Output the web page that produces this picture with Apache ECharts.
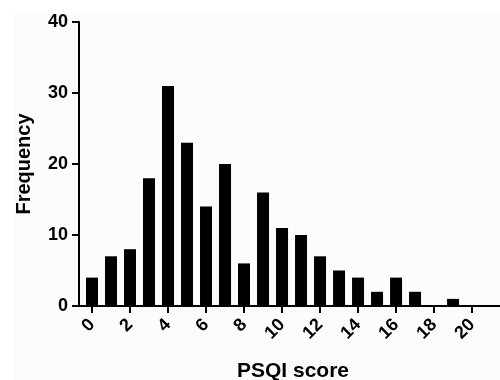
<!DOCTYPE html>
<html><head><meta charset="utf-8">
<script src="https://cdn.jsdelivr.net/npm/echarts@6/dist/echarts.min.js"></script>
<style>html,body{margin:0;padding:0;background:#fff}#c{width:500px;height:380px}</style>
</head><body><div id="c"></div>
<script>
const scores = [0,1,2,3,4,5,6,7,8,9,10,11,12,13,14,15,16,17,18,19,20];
const frequency = [4,7,8,18,31,23,14,20,6,16,11,10,7,5,4,2,4,2,0,1,0];
const xTicks = [0,2,4,6,8,10,12,14,16,18,20];
const yTicks = [0,10,20,30,40];
const xTitle = 'PSQI score';
const yTitle = 'Frequency';

const font = '"Liberation Sans", Arial, sans-serif';
const chart = echarts.init(document.getElementById('c'), null, {renderer:'canvas'});
chart.setOption({
  animation:false,
  backgroundColor:'#fff',
  graphic:[
    {type:'rect', z:-10, shape:{x:14,y:14,width:486,height:366}, style:{fill:'#fcfcfc'}},
    {type:'text', x:293, y:371, style:{text:xTitle, align:'center', verticalAlign:'middle', fill:'#000', font:'bold 21px "Liberation Sans", Arial, sans-serif'}},
    {type:'text', x:24, y:164, rotation:Math.PI/2, style:{text:yTitle, align:'center', verticalAlign:'middle', fill:'#000', font:'bold 20px "Liberation Sans", Arial, sans-serif'}}
  ],
  grid:{left:79, right:0, top:22, bottom:74, containLabel:false, outerBoundsMode:'none'},
  xAxis:{
    type:'value', min:-0.684, max:21.47,
    splitLine:{show:false},
    axisLine:{show:true, onZero:false, lineStyle:{color:'#000', width:2}},
    axisTick:{show:true, customValues:xTicks, length:7, lineStyle:{color:'#000', width:2}},
    axisLabel:{customValues:xTicks, rotate:45, margin:16, color:'#000', fontSize:18, fontWeight:'bold', fontFamily:font}
  },
  yAxis:{
    type:'value', min:0, max:40, interval:10,
    splitLine:{show:false},
    axisLine:{show:true, onZero:false, lineStyle:{color:'#000', width:2}},
    axisTick:{show:true, length:7, lineStyle:{color:'#000', width:2}},
    axisLabel:{customValues:yTicks, color:'#000', fontSize:18, fontWeight:'bold', fontFamily:font, margin:11}
  },
  series:[{
    type:'bar', barWidth:12,
    data: scores.map((s,i)=>[s, frequency[i]]),
    itemStyle:{color:'#000'}
  }]
});
</script></body></html>
